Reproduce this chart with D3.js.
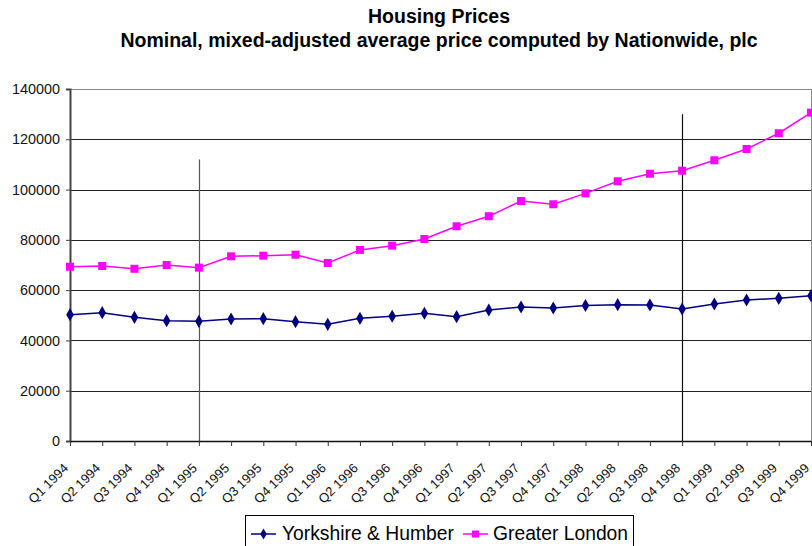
<!DOCTYPE html>
<html><head><meta charset="utf-8">
<script src="https://cdn.jsdelivr.net/npm/d3@7"></script>
<style>body{margin:0;background:#fff;}svg{display:block;font-family:"Liberation Sans",Arial,sans-serif;}</style>
</head><body><svg id="c" width="812" height="546"></svg>
<script>
const categories = ["Q1 1994","Q2 1994","Q3 1994","Q4 1994","Q1 1995","Q2 1995","Q3 1995","Q4 1995",
"Q1 1996","Q2 1996","Q3 1996","Q4 1996","Q1 1997","Q2 1997","Q3 1997","Q4 1997",
"Q1 1998","Q2 1998","Q3 1998","Q4 1998","Q1 1999","Q2 1999","Q3 1999","Q4 1999"];
const yorkshire = [50240,51030,49200,47860,47600,48530,48650,47460,46400,48800,49600,50800,49450,52100,53300,52900,53900,54220,54100,52500,54500,56090,56750,57800];
const london = [69300,69600,68500,70000,68950,73450,73700,74100,70800,76000,77700,80350,85400,89400,95450,94150,98500,103300,106300,107500,111650,116150,122400,130600];
const yTicks = [0,20000,40000,60000,80000,100000,120000,140000];
const markers = [{cat:"Q1 1995", top:112000},{cat:"Q4 1998", top:130000}];
const seriesNames = ["Yorkshire & Humber","Greater London"];

const svg = d3.select("#c");
const L=70, R=811, T=89, B=441;
const x = d3.scalePoint().domain(categories).range([L,R]);
const y = d3.scaleLinear().domain([0,140000]).range([B,T]);

// title
svg.append("text").attr("x",439).attr("y",23).attr("text-anchor","middle")
  .attr("font-size",19.5).attr("font-weight","bold").text("Housing Prices");
svg.append("text").attr("x",439).attr("y",47).attr("text-anchor","middle")
  .attr("font-size",19.5).attr("font-weight","bold").text("Nominal, mixed-adjusted average price computed by Nationwide, plc");

// gridlines
svg.append("g").selectAll("line").data(yTicks.filter(d=>d>0)).join("line")
  .attr("x1",L).attr("x2",R).attr("y1",d=>Math.round(y(d))+0.5).attr("y2",d=>Math.round(y(d))+0.5)
  .attr("stroke",d=>d===140000?"#888":"#222").attr("stroke-width",1);
// right border
svg.append("line").attr("x1",R+0.5).attr("x2",R+0.5).attr("y1",T).attr("y2",B).attr("stroke","#888");

// vertical marker lines
svg.append("g").selectAll("line").data(markers).join("line")
  .attr("x1",d=>Math.round(x(d.cat))+0.5).attr("x2",d=>Math.round(x(d.cat))+0.5)
  .attr("y1",d=>y(d.top)).attr("y2",B)
  .attr("stroke",(d,i)=>i===0?"#555":"#111").attr("stroke-width",1.2);

// y axis
const ya = svg.append("g").attr("transform",`translate(${L},0)`)
  .call(d3.axisLeft(y).tickValues(yTicks).tickFormat(d3.format("d")).tickSize(4).tickPadding(6));
ya.select(".domain").attr("stroke","#444").attr("stroke-width",2);
ya.selectAll(".tick line").attr("stroke","#444");
ya.selectAll("text").attr("font-size",14.4).attr("fill","#111").attr("font-family","Liberation Sans, Arial, sans-serif");

// x axis
const xa = svg.append("g").attr("transform",`translate(0,${B})`)
  .call(d3.axisBottom(x).tickSize(5).tickSizeOuter(0));
xa.select(".domain").attr("stroke","#111").attr("stroke-width",1.5);
xa.selectAll(".tick line").attr("stroke","#333");
xa.selectAll("text").attr("font-size",13).attr("fill","#111")
  .attr("font-family","Liberation Sans, Arial, sans-serif")
  .attr("text-anchor","end").attr("dy",0).attr("y",0)
  .attr("transform","translate(-1.5,28) rotate(-45)");

// lines
const line = d3.line().x((d,i)=>x(categories[i])).y(d=>y(d));
svg.append("path").datum(yorkshire).attr("d",line).attr("fill","none").attr("stroke","#000080").attr("stroke-width",1.5);
svg.append("path").datum(london).attr("d",line).attr("fill","none").attr("stroke","#FF00FF").attr("stroke-width",1.5);

const diamond = d3.symbol().type(d3.symbolDiamond).size(50);
svg.append("g").selectAll("path").data(yorkshire).join("path")
  .attr("d",diamond).attr("transform",(d,i)=>`translate(${x(categories[i])},${y(d)})`)
  .attr("fill","#000080");
svg.append("g").selectAll("rect").data(london).join("rect")
  .attr("x",(d,i)=>x(categories[i])-4).attr("y",d=>y(d)-4).attr("width",8).attr("height",8)
  .attr("fill","#FF00FF");

// legend
const lg = svg.append("g");
lg.append("rect").attr("x",245.5).attr("y",515.5).attr("width",388).attr("height",40)
  .attr("fill","#fff").attr("stroke","#000");
lg.append("line").attr("x1",251).attr("x2",276).attr("y1",534).attr("y2",534).attr("stroke","#000080").attr("stroke-width",1.5);
lg.append("path").attr("d",d3.symbol().type(d3.symbolDiamond).size(36)).attr("transform","translate(263.5,534)").attr("fill","#000080");
lg.append("text").attr("x",282).attr("y",540).attr("font-size",19.3).text(seriesNames[0]);
lg.append("line").attr("x1",463).attr("x2",488).attr("y1",534).attr("y2",534).attr("stroke","#FF00FF").attr("stroke-width",1.5);
lg.append("rect").attr("x",472).attr("y",530.5).attr("width",7).attr("height",7).attr("fill","#FF00FF");
lg.append("text").attr("x",493).attr("y",540).attr("font-size",19.3).text(seriesNames[1]);
</script></body></html>
